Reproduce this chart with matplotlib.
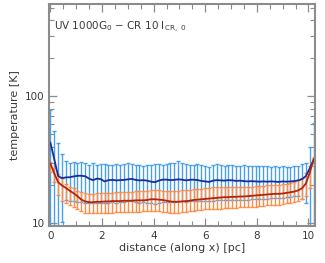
import matplotlib
matplotlib.use("Agg")
import matplotlib.pyplot as plt
from matplotlib.ticker import MultipleLocator, LogLocator, NullFormatter, FixedLocator
import numpy as np

# distance grid [pc]
distance = np.arange(69) * 0.15

# blue set: mean temperature and error range [K]
temp_blue = [43, 32, 23.5, 22.6, 22.9, 23, 23.3, 23.6, 23.6, 23.4,
             22.4, 21.8, 22.4, 22.2, 21.3, 21.8, 21.9, 21.7, 21.8, 21.9,
             22.1, 22.3, 21.9, 21.7, 21.8, 21.6, 21.2, 21.0, 21.6, 22.0,
             22.0, 21.8, 21.9, 22.1, 22.0, 21.7, 21.9, 22.0, 21.8, 21.5,
             21.3, 21.1, 21.6, 21.8, 21.7, 21.6, 21.8, 21.7, 21.5, 21.6,
             21.4, 21.3, 21.4, 21.3, 21.2, 21.3, 21.2, 21.3, 21.2, 21.1,
             21.3, 21.2, 21.3, 21.4, 21.7, 22.2, 23.5, 27, 31.5]
upper_blue = [78, 53, 43, 35, 31, 30, 30.5, 30, 30.5, 30,
              28.5, 29.5, 28.5, 29, 29, 28.5, 28.8, 29.2, 28.6, 29,
              30, 29, 28.7, 28.5, 28, 28.7, 28.6, 29, 29.2, 28.5,
              29, 29.5, 30, 30.8, 29.5, 29, 28.6, 28.8, 29, 28.5,
              28.2, 27.8, 28.5, 29, 28.8, 28.2, 28.5, 28.8, 28.2, 28,
              28.5, 28.2, 28, 28.3, 28, 28.4, 28, 27.8, 28, 27.8,
              28, 27.6, 27.8, 28, 28.2, 29, 30, 40, 62]
lower_blue = [9, 9, 9, 10.1, 15.2, 15, 14.8, 14.6, 14.7, 14.5,
              14.4, 14.5, 14.4, 14.5, 14.3, 14.5, 14.6, 14.5, 14.6, 14.7,
              14.9, 14.8, 14.6, 14.5, 14.6, 14.4, 14.3, 14.2, 14.4, 14.6,
              14.7, 14.6, 14.7, 14.8, 14.8, 14.7, 14.8, 14.9, 14.9, 14.8,
              14.8, 14.8, 15, 15.1, 15.1, 15.1, 15.2, 15.2, 15.2, 15.3,
              15.3, 15.3, 15.4, 15.4, 15.5, 15.6, 15.6, 15.7, 15.8, 15.8,
              15.9, 16, 16.1, 16.2, 16.3, 15.5, 14.3, 9, 9]

# red set: mean temperature and error range [K]
temp_red = [29.5, 24.7, 21, 19.8, 18.9, 18.0, 17.2, 16.3, 15.3, 14.8,
            14.6, 14.6, 14.7, 14.7, 14.8, 14.8, 14.9, 14.9, 14.9, 15.0,
            15.0, 15.0, 15.1, 15.1, 15.1, 15.2, 15.4, 15.4, 15.3, 15.2,
            15.0, 14.8, 14.7, 14.7, 14.8, 14.9, 15.0, 15.2, 15.3, 15.4,
            15.5, 15.6, 15.7, 15.8, 15.9, 16.0, 16.0, 16.1, 16.1, 16.2,
            16.2, 16.3, 16.4, 16.5, 16.6, 16.7, 16.8, 16.9, 17.0, 17.0,
            17.1, 17.3, 17.5, 17.7, 18.1, 18.8, 20.5, 25, 32]
upper_red = [30.5, 27, 24.5, 22.5, 20.5, 19.3, 18.8, 18.0, 17.5, 17.2,
             17.0, 17.1, 17.2, 17.3, 17.3, 17.4, 17.4, 17.5, 17.5, 17.6,
             17.6, 17.7, 17.8, 17.8, 17.9, 18.0, 18.1, 18.2, 18.1, 18.0,
             18.0, 17.9, 17.8, 17.9, 18.1, 18.2, 18.3, 18.4, 18.6, 18.7,
             18.8, 19.0, 19.1, 19.2, 19.2, 19.3, 19.3, 19.3, 19.3, 19.4,
             19.4, 19.4, 19.4, 19.5, 19.6, 19.7, 19.8, 19.9, 20.0, 20.1,
             20.3, 20.5, 20.8, 21.2, 21.8, 22.8, 25, 28, 33]
lower_red = [25.4, 21.2, 16.5, 14.8, 14.4, 13.8, 13.3, 12.9, 12.4, 12.0,
             11.9, 11.9, 12.0, 12.0, 12.1, 12.1, 12.1, 12.2, 12.2, 12.2,
             12.3, 12.3, 12.3, 12.3, 12.4, 12.4, 12.5, 12.5, 12.4, 12.3,
             12.2, 12.1, 12.1, 12.1, 12.2, 12.3, 12.4, 12.5, 12.6, 12.7,
             12.8, 12.9, 12.9, 13.0, 13.0, 13.1, 13.1, 13.2, 13.2, 13.3,
             13.3, 13.4, 13.4, 13.5, 13.6, 13.7, 13.8, 13.9, 14.0, 14.0,
             14.1, 14.3, 14.5, 14.7, 15.0, 15.5, 16.2, 19, 28]

label = r"UV 1000G$_0$ $-$ CR 10 I$_{\rm CR,\ 0}$"

plt.rcParams['font.family'] = ['DejaVu Sans']
text_col = '#3a3a3a'
axis_col = '#8c8c8c'

fig = plt.figure(figsize=(3.25, 2.63), dpi=100)
ax = fig.add_axes([0.151, 0.139, 0.818, 0.844])


def draw_set(t, lo, hi, bar_col):
    t = np.array(t)
    err = [t - np.array(lo), np.array(hi) - t]
    ax.errorbar(distance, t, yerr=err, fmt='none', ecolor=bar_col,
                elinewidth=1.0, capsize=1.4, capthick=1.0)
    return t


tb = draw_set(temp_blue, lower_blue, upper_blue, '#4a9fea')
tr = draw_set(temp_red, lower_red, upper_red, '#ff8c45')
ax.plot(distance, tb, color='#1a2c9c', lw=1.3)
ax.plot(distance, tr, color='#b3230a', lw=1.3)

ax.set_yscale('log')
ax.set_xlim(-0.05, 10.25)
ax.set_ylim(9.4, 530)
ax.xaxis.set_major_locator(MultipleLocator(2))
ax.xaxis.set_minor_locator(MultipleLocator(0.5))
ax.yaxis.set_major_locator(FixedLocator([10, 100]))
ax.yaxis.set_minor_locator(LogLocator(base=10, subs=np.arange(2, 10)))
ax.yaxis.set_minor_formatter(NullFormatter())
ax.set_yticklabels(['10', '100'])

ax.tick_params(which='both', direction='in', top=True, right=True,
               color=axis_col, labelcolor=text_col, labelsize=7.5)
ax.tick_params(which='major', length=5.5, width=0.9, pad=3)
ax.tick_params(which='minor', length=3.5, width=0.8)
for sp in ax.spines.values():
    sp.set_color(axis_col)
    sp.set_linewidth(1.5)

ax.set_xlabel("distance (along x) [pc]", fontsize=8, color=text_col,
              labelpad=2)
ax.set_ylabel("temperature [K]", fontsize=8, color=text_col, labelpad=4)
ax.text(0.02, 0.93, label, transform=ax.transAxes, fontsize=7.5,
        color=text_col, va='top', ha='left')

fig.savefig("out.png", dpi=100)
